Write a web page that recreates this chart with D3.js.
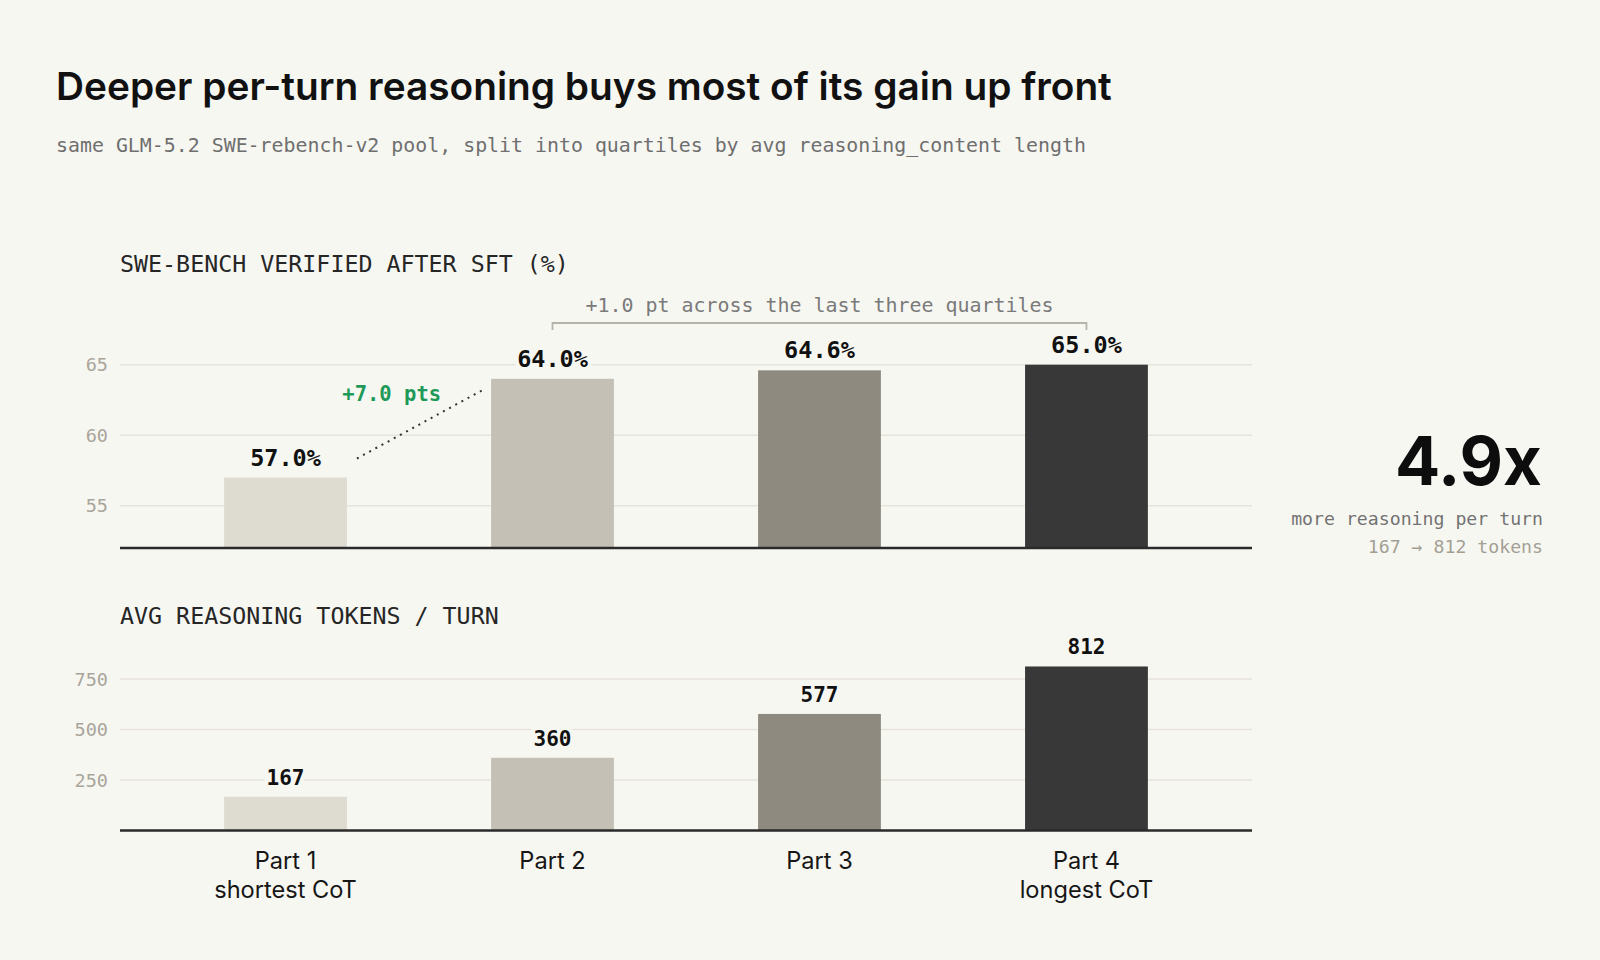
<!DOCTYPE html>
<html>
<head>
<meta charset="utf-8">
<script src="https://cdn.jsdelivr.net/npm/d3@7"></script>
<style>
  html, body { margin: 0; padding: 0; background: #f7f7f2; }
  svg { display: block; }
</style>
</head>
<body>
<div id="chart"></div>
<script>
// quartile categories and their two metrics
const parts = ['Part 1', 'Part 2', 'Part 3', 'Part 4'];
const partNotes = ['shortest CoT', '', '', 'longest CoT'];
const sweScores = [57.0, 64.0, 64.6, 65.0];
const reasoningTokens = [167, 360, 577, 812];
const sweTicks = [55, 60, 65];
const tokenTicks = [250, 500, 750];
const barColors = ['#dedcd1', '#c4c0b5', '#8e8a7f', '#383838'];

const width = 1600;
const height = 960;
const bg = '#f7f7f2';
const mono = "'DejaVu Sans Mono', 'Liberation Mono', monospace";
const sans = "Inter, 'Noto Sans', sans-serif";

const svg = d3.select('#chart')
  .append('svg')
  .attr('width', width)
  .attr('height', height);

svg.append('rect').attr('width', width).attr('height', height).attr('fill', bg);

// headline + subtitle
svg.append('text')
  .attr('x', 56).attr('y', 100)
  .attr('font-family', sans).attr('font-size', 38.8).attr('font-weight', 600)
  .attr('fill', '#111')
  .text('Deeper per-turn reasoning buys most of its gain up front');

svg.append('text')
  .attr('x', 56).attr('y', 152)
  .attr('font-family', mono).attr('font-size', 19.9)
  .attr('fill', '#6f6f6f')
  .text('same GLM-5.2 SWE-rebench-v2 pool, split into quartiles by avg reasoning_content length');

const left = 120, right = 1252;

const x = d3.scaleBand()
  .domain(parts)
  .range([left, right])
  .paddingInner(0.54)
  .paddingOuter(0.39);

const yTop = d3.scaleLinear().domain([52, 66]).range([548, 350.6]);
const yBot = d3.scaleLinear().domain([0, 900]).range([830.5, 648.7]);

const drawPanel = (title, titleY, values, y, ticks, fmt, labelSize) => {
  const g = svg.append('g');

  g.append('text')
    .attr('x', left).attr('y', titleY)
    .attr('font-family', mono).attr('font-size', 23.3)
    .attr('fill', '#262626')
    .text(title);

  // gridlines + tick labels
  g.append('g')
    .selectAll('g')
    .data(ticks)
    .join('g')
    .call(t => t.append('line')
      .attr('x1', left).attr('x2', right)
      .attr('y1', d => y(d)).attr('y2', d => y(d))
      .attr('stroke', '#e6e3da').attr('stroke-width', 1.6))
    .call(t => t.append('text')
      .attr('x', 108).attr('y', d => y(d))
      .attr('dy', '0.36em')
      .attr('text-anchor', 'end')
      .attr('font-family', mono).attr('font-size', 18.5)
      .attr('fill', '#a9a59b')
      .text(d => d));

  // bars
  g.append('g')
    .selectAll('rect')
    .data(values)
    .join('rect')
    .attr('x', (d, i) => x(parts[i]))
    .attr('width', x.bandwidth())
    .attr('y', d => y(d))
    .attr('height', d => y.range()[0] - y(d))
    .attr('fill', (d, i) => barColors[i]);

  // baseline
  g.append('line')
    .attr('x1', left).attr('x2', right)
    .attr('y1', y.range()[0]).attr('y2', y.range()[0])
    .attr('stroke', '#2a2a2a').attr('stroke-width', 2.6);

  // value labels with a background halo
  g.append('g')
    .selectAll('text')
    .data(values)
    .join('text')
    .attr('x', (d, i) => x(parts[i]) + x.bandwidth() / 2)
    .attr('y', d => y(d) - 12)
    .attr('text-anchor', 'middle')
    .attr('font-family', mono).attr('font-size', labelSize).attr('font-weight', 700)
    .attr('fill', '#111')
    .attr('stroke', bg).attr('stroke-width', 8).attr('paint-order', 'stroke')
    .text(fmt);

  return g;
};

drawPanel('SWE-BENCH VERIFIED AFTER SFT (%)', 272, sweScores, yTop, sweTicks, d => d.toFixed(1) + '%', 23.5);
drawPanel('AVG REASONING TOKENS / TURN', 624, reasoningTokens, yBot, tokenTicks, d => d, 21);

// bracket over parts 2-4
const bx1 = x(parts[1]) + x.bandwidth() / 2;
const bx2 = x(parts[3]) + x.bandwidth() / 2;
const by = 323;
svg.append('path')
  .attr('d', `M${bx1},${by + 7}V${by}H${bx2}V${by + 7}`)
  .attr('fill', 'none')
  .attr('stroke', '#b7b3a8').attr('stroke-width', 1.8);

svg.append('text')
  .attr('x', (bx1 + bx2) / 2).attr('y', 311.5)
  .attr('text-anchor', 'middle')
  .attr('font-family', mono).attr('font-size', 19.95)
  .attr('fill', '#7a7a7a')
  .text(`+${(sweScores[3] - sweScores[1]).toFixed(1)} pt across the last three quartiles`);

// jump from part 1 to part 2
const jx1 = x(parts[0]) + x.bandwidth() + 10;
const jy1 = yTop(sweScores[0]) - 19;
const jx2 = x(parts[1]) - 8;
const jy2 = yTop(sweScores[1]) + 11;
svg.append('line')
  .attr('x1', jx1).attr('y1', jy1).attr('x2', jx2).attr('y2', jy2)
  .attr('stroke', '#333').attr('stroke-width', 2)
  .attr('stroke-dasharray', '2,5');

svg.append('text')
  .attr('x', jx2 - 42).attr('y', 400.5)
  .attr('text-anchor', 'end')
  .attr('font-family', mono).attr('font-size', 20.5).attr('font-weight', 700)
  .attr('fill', '#1e9a58')
  .text(`+${(sweScores[1] - sweScores[0]).toFixed(1)} pts`);

// category labels
const xl = svg.append('g')
  .selectAll('text')
  .data(parts)
  .join('text')
  .attr('x', d => x(d) + x.bandwidth() / 2)
  .attr('y', 869)
  .attr('text-anchor', 'middle')
  .attr('font-family', sans).attr('font-size', 23.6)
  .attr('fill', '#161616');
xl.append('tspan').text(d => d);
xl.append('tspan')
  .attr('x', d => x(d) + x.bandwidth() / 2)
  .attr('dy', 29)
  .text((d, i) => partNotes[i]);

// ratio callout
const ratio = reasoningTokens[3] / reasoningTokens[0];
svg.append('text')
  .attr('x', 1542).attr('y', 485)
  .attr('text-anchor', 'end')
  .attr('font-family', sans).attr('font-size', 67).attr('font-weight', 700)
  .attr('fill', '#0d0d0d')
  .text(ratio.toFixed(1) + 'x');

svg.append('text')
  .attr('x', 1543).attr('y', 525)
  .attr('text-anchor', 'end')
  .attr('font-family', mono).attr('font-size', 18.2)
  .attr('fill', '#737373')
  .text('more reasoning per turn');

svg.append('text')
  .attr('x', 1543).attr('y', 552.5)
  .attr('text-anchor', 'end')
  .attr('font-family', mono).attr('font-size', 18.2)
  .attr('fill', '#a39f94')
  .text(`${reasoningTokens[0]} → ${reasoningTokens[3]} tokens`);
</script>
</body>
</html>
